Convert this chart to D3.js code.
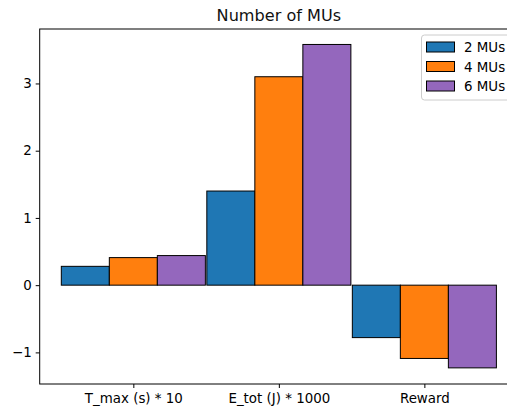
<!DOCTYPE html>
<html>
<head>
<meta charset="utf-8">
<script src="https://cdn.jsdelivr.net/npm/d3@7"></script>
<style>
  body { margin: 0; background: #fff; }
  svg { display: block; font-family: "DejaVu Sans", sans-serif; }
</style>
</head>
<body>
<div id="chart"></div>
<script>

var w = 507,
    h = 410,
    padLeft = 39.7,
    padRight = 518,
    padTop = 29,
    padBottom = 384,
    barWidth = 0.33,
    fontSize = 13.4;

var categories = ["T_max (s) * 10", "E_tot (J) * 1000", "Reward"];
var seriesNames = ["2 MUs", "4 MUs", "6 MUs"];
var mu2 = [0.28, 1.40, -0.78];
var mu4 = [0.41, 3.10, -1.09];
var mu6 = [0.44, 3.58, -1.23];
var yTicks = [-1, 0, 1, 2, 3];
var colors = ["#1f77b4", "#ff7f0e", "#9467bd"];

var series = [mu2, mu4, mu6];

var x = d3.scaleLinear()
    .domain([-0.6435, 2.6435])
    .range([padLeft, padRight]);

var y = d3.scaleLinear()
    .domain([-1.47, 3.81])
    .range([padBottom, padTop]);

var svg = d3.select("#chart").append("svg")
    .attr("width", w)
    .attr("height", h);

// Bars, one group per series.
series.forEach(function(values, j) {
  svg.append("g")
      .selectAll("rect")
      .data(values)
    .enter().append("rect")
      .attr("x", function(d, i) { return x(i + (j - 1) * barWidth - barWidth / 2); })
      .attr("width", x(barWidth) - x(0))
      .attr("y", function(d) { return y(Math.max(0, d)); })
      .attr("height", function(d) { return Math.abs(y(d) - y(0)); })
      .attr("fill", colors[j])
      .attr("stroke", "#000")
      .attr("stroke-width", 1);
});

// Axes.
var yAxis = d3.axisLeft(y)
    .tickValues(yTicks)
    .tickSize(4)
    .tickPadding(4)
    .tickFormat(function(d) { return d < 0 ? "\u2212" + Math.abs(d) : d; });

var xAxis = d3.axisBottom(x)
    .tickValues(d3.range(categories.length))
    .tickSize(4)
    .tickPadding(5)
    .tickFormat(function(d) { return categories[d]; });

var gy = svg.append("g")
    .attr("transform", "translate(" + padLeft + ",0)")
    .call(yAxis);

var gx = svg.append("g")
    .attr("transform", "translate(0," + padBottom + ")")
    .call(xAxis);

[gx, gy].forEach(function(g) {
  g.attr("font-size", fontSize).attr("font-family", "DejaVu Sans, sans-serif");
  g.select(".domain").remove();
  g.selectAll("text").attr("fill", "#000");
  g.selectAll("line").attr("stroke", "#000");
});

// Frame.
svg.append("rect")
    .attr("x", padLeft)
    .attr("y", padTop)
    .attr("width", padRight - padLeft)
    .attr("height", padBottom - padTop)
    .attr("fill", "none")
    .attr("stroke", "#000")
    .attr("stroke-width", 1);

// Title.
svg.append("text")
    .attr("x", (padLeft + padRight) / 2)
    .attr("y", 21)
    .attr("text-anchor", "middle")
    .attr("font-size", 16.1)
    .attr("fill", "#111")
    .text("Number of MUs");

// Legend.
var legend = svg.append("g")
    .attr("transform", "translate(421.5,35)");

legend.append("rect")
    .attr("width", 90)
    .attr("height", 65)
    .attr("rx", 3)
    .attr("fill", "#fff")
    .attr("fill-opacity", 0.8)
    .attr("stroke", "#ccc");

var item = legend.selectAll("g.item")
    .data(seriesNames)
  .enter().append("g")
    .attr("class", "item")
    .attr("transform", function(d, i) { return "translate(0," + (12 + i * 19.5) + ")"; });

item.append("rect")
    .attr("x", 5)
    .attr("y", -5)
    .attr("width", 28)
    .attr("height", 10)
    .attr("fill", function(d, i) { return colors[i]; })
    .attr("stroke", "#000");

item.append("text")
    .attr("x", 42.5)
    .attr("y", 5)
    .attr("font-size", fontSize)
    .text(function(d) { return d; });

</script>
</body>
</html>
